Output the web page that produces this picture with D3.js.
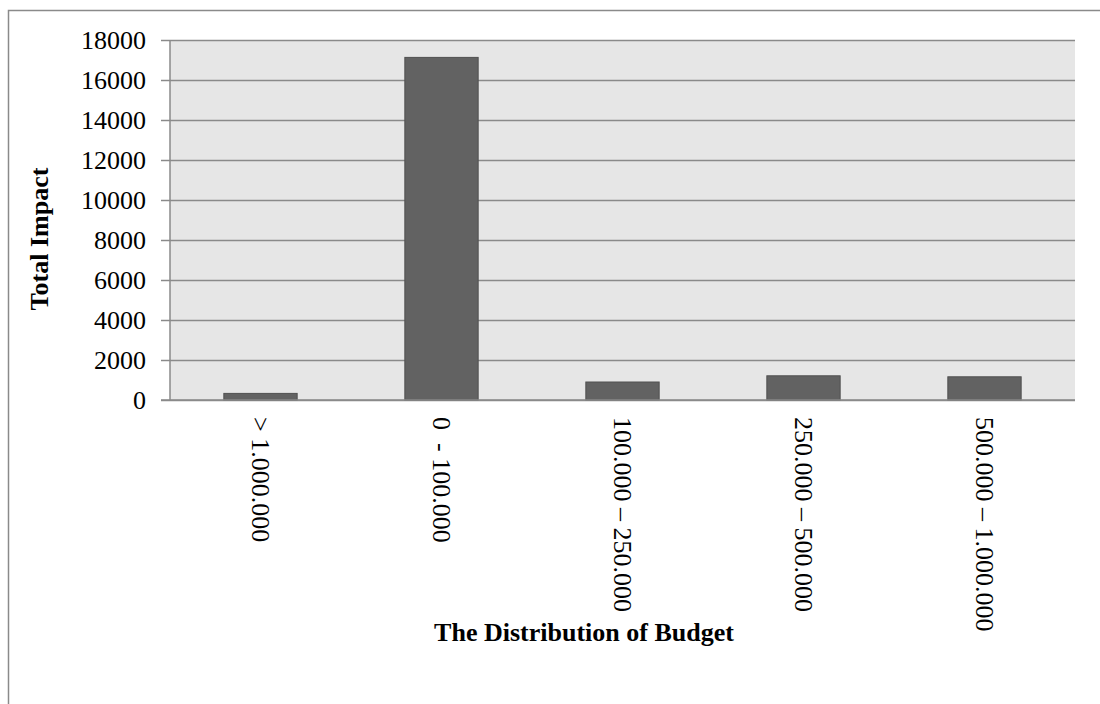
<!DOCTYPE html>
<html>
<head>
<meta charset="utf-8">
<script src="https://cdn.jsdelivr.net/npm/d3@7"></script>
<style>
  html, body { margin: 0; padding: 0; background: #ffffff; }
  svg { display: block; }
  text { font-family: "Liberation Serif", "Times New Roman", serif; fill: #000; }
</style>
</head>
<body>
<svg id="chart" width="1100" height="704"></svg>
<script>
// Budget bands and the total impact recorded for each
const categories = ["> 1.000.000", "0  - 100.000", "100.000 \u2013 250.000", "250.000 \u2013 500.000", "500.000 \u2013 1.000.000"];
const totalImpact = [330, 17130, 900, 1210, 1160];
const yTicks = [0, 2000, 4000, 6000, 8000, 10000, 12000, 14000, 16000, 18000];
const yTitle = "Total Impact";
const xTitle = "The Distribution of Budget";

const svg = d3.select("#chart");
const plot = { left: 170, right: 1075, top: 40, bottom: 400 };

// outer chart frame (left and top edges)
svg.append("path")
  .attr("d", "M8.5,704 L8.5,10.5 L1100,10.5")
  .attr("fill", "none")
  .attr("stroke", "#8a8a8a")
  .attr("stroke-width", 1.5);

const x = d3.scaleBand()
  .domain(categories)
  .range([plot.left, plot.right])
  .paddingInner(0.595)
  .paddingOuter(0.2975);

const y = d3.scaleLinear()
  .domain([0, 18000])
  .range([plot.bottom, plot.top]);

// plot background
svg.append("rect")
  .attr("x", plot.left)
  .attr("y", plot.top)
  .attr("width", plot.right - plot.left)
  .attr("height", plot.bottom - plot.top)
  .attr("fill", "#e6e6e6");

// horizontal gridlines with tick marks, drawn by the y axis
const yAxis = svg.append("g")
  .attr("transform", `translate(${plot.left},0)`)
  .call(d3.axisLeft(y)
    .tickValues(yTicks)
    .tickSize(-(plot.right - plot.left))
    .tickPadding(24)
    .tickFormat(d3.format("d")));
yAxis.select(".domain").remove();
yAxis.selectAll(".tick line")
  .attr("x1", -9)
  .attr("stroke", "#8a8a8a")
  .attr("stroke-width", 1.5);
yAxis.selectAll(".tick text")
  .attr("font-size", 26)
  .attr("font-family", "Liberation Serif, Times New Roman, serif")
  .attr("dy", "0.33em");

// vertical axis line
svg.append("line")
  .attr("x1", plot.left).attr("x2", plot.left)
  .attr("y1", plot.top).attr("y2", plot.bottom)
  .attr("stroke", "#8a8a8a")
  .attr("stroke-width", 1.5);

// bars
svg.append("g").selectAll("rect")
  .data(categories.map((c, i) => ({ c, v: totalImpact[i] })))
  .join("rect")
  .attr("x", d => x(d.c))
  .attr("y", d => y(d.v))
  .attr("width", x.bandwidth())
  .attr("height", d => y(0) - y(d.v))
  .attr("fill", "#626262")
  .attr("stroke", "#505050")
  .attr("stroke-width", 1);

// baseline
svg.append("line")
  .attr("x1", plot.left - 9).attr("x2", plot.right)
  .attr("y1", y(0)).attr("y2", y(0))
  .attr("stroke", "#8a8a8a")
  .attr("stroke-width", 1.5);

// category labels, rotated to read downward
svg.append("g").selectAll("text")
  .data(categories)
  .join("text")
  .attr("transform", d => `translate(${x(d) + x.bandwidth() / 2},${plot.bottom + 17}) rotate(90)`)
  .attr("dy", "0.34em")
  .attr("text-anchor", "start")
  .attr("font-size", 26)
  .style("white-space", "pre")
  .text(d => d);

// axis titles
svg.append("text")
  .attr("transform", "translate(48,239) rotate(-90)")
  .attr("text-anchor", "middle")
  .attr("font-size", 26)
  .attr("font-weight", "bold")
  .text(yTitle);

svg.append("text")
  .attr("x", 584)
  .attr("y", 641)
  .attr("text-anchor", "middle")
  .attr("font-size", 26)
  .attr("font-weight", "bold")
  .text(xTitle);
</script>
</body>
</html>
